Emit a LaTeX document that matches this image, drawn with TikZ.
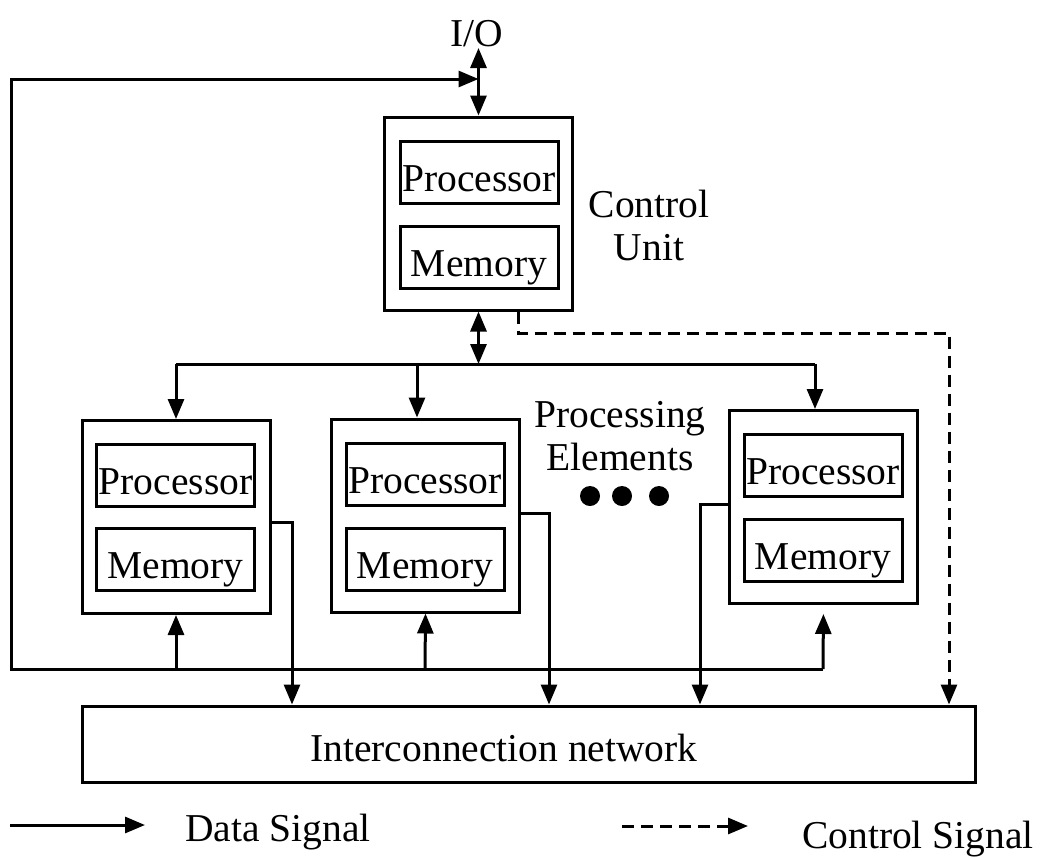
\documentclass[tikz,border=0pt]{standalone}
\usepackage{fontspec}
\setmainfont{Liberation Serif}
\usetikzlibrary{arrows.meta}

\tikzset{
  unitbox/.style={draw, line width=3pt, minimum width=188pt, minimum height=193pt, inner sep=0pt},
  partbox/.style={draw, line width=3pt, minimum width=158pt, minimum height=62pt, inner sep=0pt,
    text height=38pt, text depth=0pt},
  label/.style={inner sep=0pt, align=center},
  data/.style={line width=3pt, -{Triangle[length=20pt,width=16pt]}},
  both/.style={line width=3pt, {Triangle[length=20pt,width=16pt]}-{Triangle[length=20pt,width=16pt]}},
  ctrl/.style={line width=3pt, dash pattern=on 12pt off 7pt, -{Triangle[length=20pt,width=16pt]}},
  wire/.style={line width=3pt}
}

\begin{document}
\begin{tikzpicture}[x=1pt, y=-1pt, font=\fontsize{39.5}{43}\selectfont]
\useasboundingbox (0,0) rectangle (1041,857);

% Control unit
\node[unitbox] (cu) at (478.5,213.5) {};
\node[partbox] (cuproc) at (479,172.5) {Processor};
\node[partbox] (cumem) at (479,257) {Memory};
\node[label] (cutext) at (649,225) {Control\\Unit};

\node[label, anchor=base] (io) at (477,46) {I/O};
\coordinate (iotip) at (478.5,48);
\draw[both] (iotip) -- (cu.north);

% Processing elements
\node[unitbox] (pe1) at (176,517) {};
\node[partbox] (pe1proc) at (175.5,475.5) {Processor};
\node[partbox] (pe1mem) at (175.5,559.5) {Memory};

\node[unitbox] (pe2) at (425.5,515.5) {};
\node[partbox] (pe2proc) at (425,474) {Processor};
\node[partbox] (pe2mem) at (425,559) {Memory};

\node[unitbox] (pe3) at (823.5,507) {};
\node[partbox] (pe3proc) at (823,465) {Processor};
\node[partbox] (pe3mem) at (823,550) {Memory};

\node[label] (petext) at (620,436) {Processing\\Elements};
\fill (590,496) circle[radius=10pt];
\fill (622,496) circle[radius=10pt];
\fill (659,496) circle[radius=10pt];

% Interconnection network
\node[draw, line width=3pt, minimum width=893pt, minimum height=76pt] (net) at (528.5,744) {};
\node[label] (nettext) at (504,748) {Interconnection network};

% broadcast bus from the control unit
\coordinate (bus) at (478.5,364);
\draw[both] (cu.south) -- (bus);
\draw[wire] (176,364) -- (815,364);
\draw[data] (176,364) -- (pe1.north);
\draw[data] (417,364) -- (417,0 |- pe2.north);
\draw[data] (815,364) -- (815,0 |- pe3.north);

% outputs to the network
\draw[data] (pe1.east |- 0,522) -| (292,0 |- net.north);
\draw[data] (pe2.east |- 0,513) -| (549,0 |- net.north);
\draw[data] (pe3.west |- 0,504) -| (700,0 |- net.north);

% feedback loop to the I/O line
\coordinate (loopsw) at (11,669);
\coordinate (loopnw) at (11,79);
\coordinate (loopse) at (823,669);
\draw[data] (loopse) -- (loopsw) -- (loopnw) -- (iotip |- loopnw);
\draw[data] (176,669) -- (pe1.south);
\draw[data] (425,669) -- (pe2.south);
\draw[data, shorten >=9pt] (loopse) -- (pe3.south);

% control signal
\draw[ctrl] (518,0 |- cu.south) |- (949,333) -- (949,0 |- net.north);

% legend
\coordinate (dataa) at (10,825);
\coordinate (datab) at (145,825);
\draw[data] (dataa) -- (datab);
\node[label, anchor=base] (datatext) at (278,841) {Data Signal};
\coordinate (ctrla) at (622,826);
\coordinate (ctrlb) at (748,826);
\draw[ctrl] (ctrla) -- (ctrlb);
\node[label, anchor=base] (ctrltext) at (918,848) {Control Signal};

\end{tikzpicture}
\end{document}
